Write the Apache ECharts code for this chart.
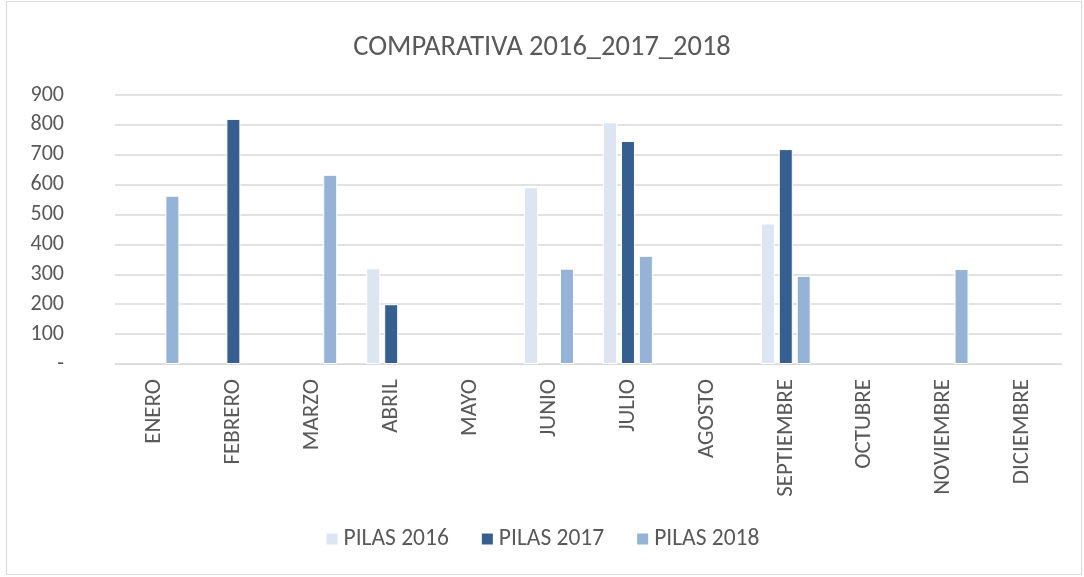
<!DOCTYPE html>
<html>
<head>
<meta charset="utf-8">
<script src="https://cdn.jsdelivr.net/npm/echarts@6/dist/echarts.min.js"></script>
<style>
  html, body { margin: 0; padding: 0; background: #fff; }
  #frame { position: absolute; left: 6px; top: 1px; width: 1076px; height: 574px; border: 1px solid #d9d9d9; box-sizing: border-box; }
  #chart { position: absolute; left: 0; top: 0; width: 1084px; height: 577px; }
</style>
</head>
<body>
<div id="frame"></div>
<div id="chart"></div>
<script>
const months = ['ENERO', 'FEBRERO', 'MARZO', 'ABRIL', 'MAYO', 'JUNIO', 'JULIO', 'AGOSTO', 'SEPTIEMBRE', 'OCTUBRE', 'NOVIEMBRE', 'DICIEMBRE'];
const seriesNames = ['PILAS 2016', 'PILAS 2017', 'PILAS 2018'];
const pilas2016 = [null, null, null, 320, null, 591, 809, null, 470, null, null, null];
const pilas2017 = [null, 820, null, 200, null, null, 746, null, 719, null, null, null];
const pilas2018 = [563, null, 633, null, null, 319, 362, null, 295, null, 318, null];
const seriesColors = ['#DCE5F1', '#365F91', '#95B3D7'];

const FONT = 'Carlito, Calibri, "Open Sans", sans-serif';
const TEXT_COLOR = '#595959';

const chart = echarts.init(document.getElementById('chart'), null, { renderer: 'canvas' });

const makeBar = (name, data, color) => ({
  name: name,
  type: 'bar',
  data: data,
  barWidth: 14,
  barGap: '28%',
  itemStyle: { color: color, borderColor: '#ffffff', borderWidth: 1 }
});

chart.setOption({
  backgroundColor: 'transparent',
  animation: false,
  textStyle: { fontFamily: FONT, color: TEXT_COLOR },
  title: {
    text: 'COMPARATIVA 2016_2017_2018',
    left: 'center',
    top: 28,
    textStyle: { fontFamily: FONT, fontSize: 28.5, fontWeight: 'normal', color: TEXT_COLOR }
  },
  legend: {
    bottom: 21,
    left: 'center',
    itemWidth: 13,
    itemHeight: 13,
    itemGap: 31,
    icon: 'rect',
    textStyle: { fontFamily: FONT, fontSize: 23.5, color: TEXT_COLOR },
    data: seriesNames
  },
  grid: { left: 115, right: 22, top: 95, bottom: 213 },
  xAxis: {
    type: 'category',
    data: months,
    axisLine: { lineStyle: { color: '#d9d9d9', width: 1 } },
    axisTick: { show: false },
    axisLabel: {
      rotate: 90,
      margin: 15,
      interval: 0,
      fontFamily: FONT,
      fontSize: 23,
      color: TEXT_COLOR
    }
  },
  yAxis: {
    type: 'value',
    min: 0,
    max: 900,
    interval: 100,
    axisLine: { show: false },
    axisTick: { show: false },
    splitLine: { lineStyle: { color: '#d9d9d9', width: 1.5 } },
    axisLabel: {
      margin: 51,
      align: 'right',
      fontFamily: FONT,
      fontSize: 22,
      color: TEXT_COLOR,
      formatter: v => (v === 0 ? '-' : String(v))
    }
  },
  series: [
    makeBar(seriesNames[0], pilas2016, seriesColors[0]),
    makeBar(seriesNames[1], pilas2017, seriesColors[1]),
    makeBar(seriesNames[2], pilas2018, seriesColors[2])
  ]
});
</script>
</body>
</html>
